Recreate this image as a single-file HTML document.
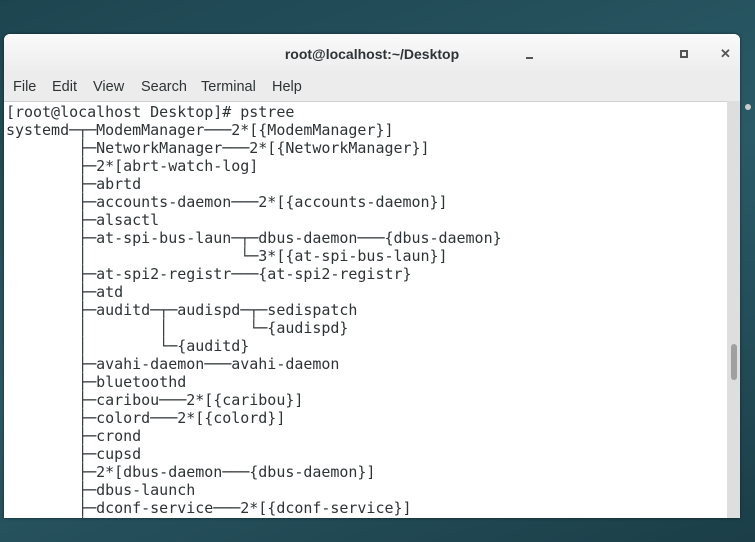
<!DOCTYPE html>
<html><head><style>
body{margin:0;width:755px;height:542px;overflow:hidden;background:linear-gradient(160deg,#1d4550,#2a5a66 50%,#1b3e48);font-family:"Liberation Sans",sans-serif;position:relative}
.win{position:absolute;left:4px;top:34px;width:736px;height:484px;background:#ececec;border-radius:6px 6px 0 0;box-shadow:0 0 3px rgba(0,0,0,.5);overflow:hidden}
.title{position:absolute;top:0;left:0;right:0;height:40px;text-align:center;line-height:40px;font-size:14px;color:#2e3436;font-weight:bold;background:linear-gradient(#fafafa,#ececec)}
.menu{position:absolute;top:45px;left:9px;font-size:14.5px;color:#2e3436}
.menu span{position:absolute;top:0;white-space:nowrap}
.term{position:absolute;top:67px;left:0;width:723px;bottom:0;background:#fff;border-top:1px solid #d0d0d0}
.sb{position:absolute;top:67px;left:723px;width:13px;bottom:0;background:#dedede}
.thumb{position:absolute;left:4px;top:243px;width:6px;height:36px;background:#a0a0a0;border-radius:3px}
pre{margin:0;position:absolute;left:2px;top:1px;font-family:"DejaVu Sans Mono","Liberation Mono",monospace;font-size:15px;line-height:18px;color:#2e3436;letter-spacing:-0.02px}
.ic{position:absolute;top:13px;color:#555;font-weight:bold;font-size:13px}
</style></head><body>
<div class="win">
<div class="title">root@localhost:~/Desktop</div>
<div style="position:absolute;left:522px;top:23px;width:7px;height:2px;background:#555"></div>
<div style="position:absolute;left:676px;top:16px;width:4px;height:4px;border:2px solid #555"></div>
<div class="ic" style="left:716px;top:12px">✕</div>
<div class="menu"><span style="left:0">File</span><span style="left:39px">Edit</span><span style="left:80px">View</span><span style="left:128px">Search</span><span style="left:188px">Terminal</span><span style="left:259px">Help</span></div>
<div class="term"><pre>[root@localhost Desktop]# pstree
systemd─┬─ModemManager───2*[{ModemManager}]
        ├─NetworkManager───2*[{NetworkManager}]
        ├─2*[abrt-watch-log]
        ├─abrtd
        ├─accounts-daemon───2*[{accounts-daemon}]
        ├─alsactl
        ├─at-spi-bus-laun─┬─dbus-daemon───{dbus-daemon}
        │                 └─3*[{at-spi-bus-laun}]
        ├─at-spi2-registr───{at-spi2-registr}
        ├─atd
        ├─auditd─┬─audispd─┬─sedispatch
        │        │         └─{audispd}
        │        └─{auditd}
        ├─avahi-daemon───avahi-daemon
        ├─bluetoothd
        ├─caribou───2*[{caribou}]
        ├─colord───2*[{colord}]
        ├─crond
        ├─cupsd
        ├─2*[dbus-daemon───{dbus-daemon}]
        ├─dbus-launch
        ├─dconf-service───2*[{dconf-service}]
        │</pre></div>
<div class="sb"><div class="thumb"></div></div>
</div>
<div style="position:absolute;left:745px;top:104px;width:6px;height:6px;border-radius:3px;background:#ccc"></div>
</body></html>
